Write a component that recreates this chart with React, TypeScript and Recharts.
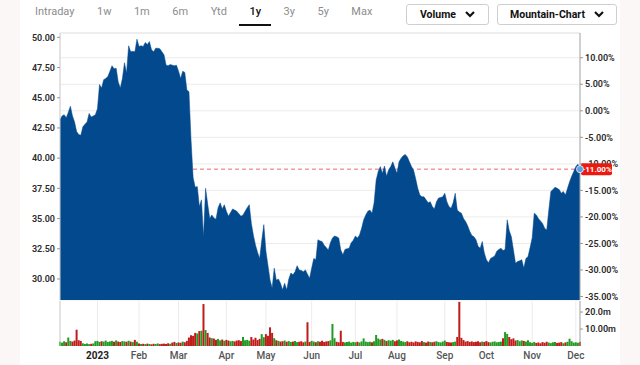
import { ComposedChart, Area, Bar, Cell, XAxis, YAxis, CartesianGrid, ReferenceLine, ReferenceDot } from 'recharts'

// one value per trading day, Dec 2022 -> Dec 2023
const prices = [
  43.2, 43.5, 43.6, 43.35, 43.8, 44.3, 43.5, 43.0, 42.2, 41.95,
  41.9, 42.6, 42.8, 43.0, 43.7, 43.4, 43.5, 43.6, 44.1, 46.1,
  45.8, 46.5, 46.6, 46.75, 47.2, 47.65, 47.4, 47.45, 46.3, 45.8,
  46.6, 47.9, 47.05, 49.3, 48.8, 48.85, 48.8, 49.85, 49.25, 49.3,
  49.25, 49.57, 49.4, 49.65, 48.97, 48.8, 49.1, 49.1, 49.05, 48.8,
  48.55, 47.7, 47.65, 47.75, 47.7, 47.65, 47.7, 47.2, 46.6, 47.2,
  47.1, 45.65, 45.5, 41.5, 38.4, 37.6, 37.65, 36.0, 36.55, 33.5,
  37.5, 36.2, 35.0, 35.3, 35.05, 34.95, 35.9, 36.3, 35.8, 36.15,
  35.6, 35.2, 35.5, 35.8, 35.7, 35.6, 35.4, 35.2, 35.3, 35.6,
  35.9, 36.15, 34.6, 33.6, 32.8, 32.2, 31.7, 33.2, 34.5, 32.3,
  31.1, 29.9, 29.25, 30.9, 29.9, 30.0, 29.65, 29.1, 29.65, 29.1,
  30.0, 30.5, 30.35, 30.6, 31.1, 30.75, 30.7, 30.6, 30.75, 30.4,
  30.05, 30.9, 31.7, 31.6, 33.25, 33.15, 33.1, 32.8, 32.6, 32.4,
  33.0, 33.4, 33.55, 33.5, 33.4, 32.4, 32.0, 32.45, 32.5, 32.55,
  33.0, 33.2, 33.55, 33.4, 33.65, 34.2, 34.9, 35.3, 35.6, 35.7,
  35.45, 36.3, 38.2, 38.9, 39.3, 38.75, 39.35, 38.5, 39.05, 39.3,
  39.7, 39.2, 38.75, 39.7, 40.0, 40.2, 40.3, 40.1, 39.7, 39.3,
  39.0, 38.3, 37.5, 36.95, 36.8, 36.8, 36.55, 36.3, 36.4, 36.0,
  35.8, 36.4, 36.7, 36.75, 36.8, 37.1, 36.4, 36.0, 35.85, 36.3,
  37.1, 35.7, 35.55, 35.45, 35.0, 34.75, 34.4, 33.95, 33.6, 33.5,
  33.25, 32.7, 32.55, 33.1, 32.15, 31.6, 31.35, 31.7, 31.8, 31.9,
  32.3, 32.45, 32.55, 32.35, 32.45, 34.9, 34.0, 33.5, 32.4, 31.3,
  31.45, 31.5, 31.6, 30.9, 31.7, 31.85, 32.6, 33.4, 35.45, 35.3,
  35.0, 34.8, 34.6, 34.2, 34.05, 35.7, 37.25, 37.4, 37.6, 37.5,
  37.4, 37.1, 37.25, 36.95, 37.5, 38.05, 38.5, 38.9, 39.3, 39.5, 39.09,
]

// millions of shares
const volumes = [
  2.5, 2.0, 2.8, 2.2, 5.0, 3.0, 2.6, 3.2, 9.6, 3.4,
  3.0, 1.6, 1.2, 1.4, 1.1, 1.3, 1.5, 2.8, 3.0, 2.4,
  2.8, 2.6, 3.2, 2.4, 2.7, 3.0, 2.5, 3.3, 2.6, 2.4,
  2.9, 2.7, 2.5, 3.1, 2.6, 2.3, 3.6, 2.5, 1.4, 1.2,
  1.3, 1.1, 1.4, 1.2, 1.0, 1.3, 1.2, 1.5, 1.1, 1.3,
  1.4, 1.2, 1.6, 1.3, 2.0, 2.4, 1.8, 2.1, 1.9, 2.6,
  2.2, 3.0, 5.0, 6.3, 6.0, 7.7, 7.4, 8.8, 9.0, 24.7,
  9.4, 7.7, 5.0, 4.6, 4.4, 3.6, 4.2, 3.3, 3.8, 3.1,
  3.6, 3.2, 2.8, 3.0, 2.7, 3.2, 3.4, 2.9, 5.3, 3.4,
  3.6, 3.1, 5.3, 3.8, 4.8, 3.5, 4.2, 7.0, 5.2, 7.0,
  6.0, 11.0, 7.7, 4.6, 3.4, 3.0, 2.6, 2.8, 3.2, 2.5,
  2.9, 2.4, 2.6, 3.0, 2.3, 2.5, 2.8, 2.2, 2.6, 14.0,
  2.4, 3.0, 2.6, 2.2, 2.8, 2.5, 3.1, 2.4, 2.7, 2.9,
  3.3, 13.0, 4.6, 2.5, 2.2, 9.0, 2.4, 2.1, 2.3, 2.6,
  2.0, 2.4, 2.2, 2.5, 2.1, 2.7, 4.5, 2.6, 2.3, 2.5,
  2.2, 2.8, 6.5, 4.4, 3.8, 4.2, 3.6, 2.9, 3.4, 3.1,
  3.6, 2.8, 3.3, 3.9, 3.0, 2.6, 2.3, 2.8, 2.2, 2.5,
  2.1, 2.7, 2.4, 2.2, 2.9, 2.3, 2.0, 2.6, 2.4, 2.2,
  2.5, 2.8, 2.3, 2.1, 2.6, 3.2, 2.4, 2.2, 2.0, 2.3,
  2.6, 5.3, 26.0, 4.8, 3.5, 2.6, 2.9, 2.4, 2.7, 2.3,
  2.5, 2.8, 2.2, 2.6, 2.4, 2.9, 2.3, 2.1, 2.5, 2.7,
  2.2, 2.4, 2.6, 4.5, 8.2, 7.1, 5.3, 4.0, 4.5, 3.2,
  3.5, 2.8, 3.3, 3.0, 2.6, 3.4, 2.2, 1.9, 2.4, 1.8,
  2.1, 1.6, 2.3, 1.9, 2.5, 2.0, 1.7, 2.2, 2.4, 1.8,
  2.0, 2.3, 1.6, 2.1, 2.5, 4.3, 2.8, 2.0, 2.2, 1.9, 2.4,
]

const monthIdx = [18, 38, 57, 80, 99, 121, 142, 162, 185, 205, 227, 248]
const monthLabels = ['2023', 'Feb', 'Mar', 'Apr', 'May', 'Jun', 'Jul', 'Aug', 'Sep', 'Oct', 'Nov', 'Dec']
const priceTicks = [30, 32.5, 35, 37.5, 40, 42.5, 45, 47.5, 50]
const pctTicks = [-35, -30, -25, -20, -15, -10, -5, 0, 5, 10]
const volTicks = [10, 20]
const volTickLabels = ['10.00m', '20.0m']
const periods = ['Intraday', '1w', '1m', '6m', 'Ytd', '1y', '3y', '5y', 'Max']
const activePeriod = '1y'

const basePrice = 43.92
const priceDomain = [28.26, 50.36]
const volDomain = [0, 26.5]

const BLUE = '#03498d'
const RED = '#c01b1b'
const GREEN = '#239a23'
const FONT = 'Roboto, "Noto Sans", sans-serif'

const pctDomain = priceDomain.map((p) => (p / basePrice - 1) * 100)
const lastIdx = prices.length - 1
const lastPrice = prices[lastIdx]
const lastPct = `${((lastPrice / basePrice - 1) * 100).toFixed(2)}%`

const data = prices.map((p, i) => ({
  i,
  price: p,
  vol: volumes[i],
  up: i === 0 ? true : p >= prices[i - 1],
}))

const EndMarker = (props: any) => {
  const { cx, cy } = props
  if (cx == null || cy == null) return null
  return (
    <g>
      <rect x={cx + 1} y={cy - 6} width={31} height={12} rx={2} fill="#ea1a10" />
      <text x={cx + 17} y={cy + 3} textAnchor="middle" fontSize={8} fontWeight={700} fill="#fff" fontFamily={FONT}>
        {lastPct}
      </text>
      <circle cx={cx} cy={cy} r={3.5} fill="#5f9fdc" stroke="#cfe2f6" strokeWidth={1} />
    </g>
  )
}

const MonthTick = (props: any) => {
  const { x, y, payload } = props
  const k = monthIdx.indexOf(payload.value)
  const label = monthLabels[k]
  const isYear = k === 0
  return (
    <text
      x={x}
      y={y}
      dy={9}
      textAnchor="middle"
      fontSize={10}
      fontFamily={FONT}
      fontWeight={isYear ? 700 : 500}
      fill={isYear ? '#222' : '#555'}
    >
      {label}
    </text>
  )
}

const Chevron = () => (
  <svg width={10} height={7} style={{ marginLeft: 9 }}>
    <polyline points="1,1 5,5 9,1" fill="none" stroke="#111" strokeWidth={2.2} />
  </svg>
)

export default function App() {
  const axisTick = { fontSize: 9, fill: '#2a2a2a', fontFamily: FONT, fontWeight: 600 }

  return (
    <div style={{ position: 'absolute', left: 0, top: 0, width: 640, height: 365, background: '#fcf7f7', fontFamily: FONT }}>
      <div style={{ position: 'absolute', left: 20, top: 0, width: 600, height: 365, background: '#fff' }} />

      {/* period selector */}
      <div style={{ position: 'absolute', left: 35, top: 4, display: 'flex', gap: 22.5, fontSize: 11, lineHeight: '16px' }}>
        {periods.map((p) => (
          <div key={p} style={{ position: 'relative', color: p === activePeriod ? '#111' : '#8c8c8c', fontWeight: p === activePeriod ? 500 : 400 }}>
            {p}
            {p === activePeriod && (
              <div style={{ position: 'absolute', left: -10, right: -10, top: 20, height: 2, background: '#111' }} />
            )}
          </div>
        ))}
      </div>

      {/* dropdowns */}
      <div style={{ position: 'absolute', left: 406, top: 4, width: 83, height: 21, border: '1px solid #cfcfcf', borderRadius: 3, boxSizing: 'border-box', display: 'flex', alignItems: 'center', justifyContent: 'center', fontSize: 10.5, fontWeight: 700, color: '#111' }}>
        Volume
        <Chevron />
      </div>
      <div style={{ position: 'absolute', left: 497, top: 4, width: 120, height: 21, border: '1px solid #cfcfcf', borderRadius: 3, boxSizing: 'border-box', display: 'flex', alignItems: 'center', justifyContent: 'center', fontSize: 10.5, fontWeight: 700, color: '#111' }}>
        Mountain-Chart
        <Chevron />
      </div>

      {/* price mountain */}
      <div style={{ position: 'absolute', left: 0, top: 0 }}>
        <ComposedChart width={640} height={306} data={data} margin={{ top: 33, right: 0, bottom: 6, left: 0 }}>
          <CartesianGrid yAxisId="pct" stroke="#ececec" strokeWidth={1} />
          <XAxis
            type="number"
            dataKey="i"
            domain={[0, lastIdx]}
            ticks={monthIdx}
            height={0}
            tick={false}
            axisLine={false}
            tickLine={false}
          />
          <YAxis
            yAxisId="price"
            orientation="left"
            width={60}
            domain={priceDomain}
            ticks={priceTicks}
            interval={0}
            allowDataOverflow
            tickFormatter={(v: number) => v.toFixed(2)}
            tick={axisTick}
            tickSize={3}
            tickMargin={2}
            tickLine={{ stroke: '#999' }}
            axisLine={{ stroke: '#d0d0d0' }}
          />
          <YAxis
            yAxisId="pct"
            orientation="right"
            width={60}
            domain={pctDomain}
            ticks={pctTicks}
            interval={0}
            allowDataOverflow
            tickFormatter={(v: number) => `${v.toFixed(2)}%`}
            tick={axisTick}
            tickSize={3}
            tickMargin={2}
            tickLine={{ stroke: '#999' }}
            axisLine={{ stroke: '#aaa' }}
          />
          <ReferenceLine yAxisId="price" y={priceDomain[1]} stroke="#e6e6e6" zIndex={-50} />
          <ReferenceLine yAxisId="price" y={lastPrice} stroke="#ec6a6a" strokeDasharray="4 3" zIndex={50} />
          <Area
            yAxisId="price"
            dataKey="price"
            type="linear"
            fill={BLUE}
            fillOpacity={1}
            stroke={BLUE}
            strokeWidth={0.5}
            dot={false}
            activeDot={false}
            isAnimationActive={false}
          />
          <ReferenceDot yAxisId="price" x={lastIdx} y={lastPrice} shape={EndMarker} zIndex={2500} />
        </ComposedChart>
      </div>

      {/* volume */}
      <div style={{ position: 'absolute', left: 0, top: 300 }}>
        <ComposedChart width={640} height={65} data={data} margin={{ top: 1, right: 0, bottom: 0, left: 0 }}>
          <CartesianGrid horizontal={false} stroke="#ececec" />
          <XAxis
            type="number"
            dataKey="i"
            domain={[0, lastIdx]}
            ticks={monthIdx}
            height={19}
            tick={<MonthTick />}
            tickSize={2}
            axisLine={false}
            tickLine={false}
            interval={0}
          />
          <YAxis
            yAxisId="vl"
            orientation="left"
            width={60}
            domain={volDomain}
            allowDataOverflow
            tick={false}
            tickLine={false}
            axisLine={{ stroke: '#d0d0d0' }}
          />
          <YAxis
            yAxisId="vr"
            orientation="right"
            width={60}
            domain={volDomain}
            allowDataOverflow
            ticks={volTicks}
            interval={0}
            tickFormatter={(v: number) => volTickLabels[volTicks.indexOf(v)] ?? ''}
            tick={axisTick}
            tickSize={3}
            tickMargin={2}
            tickLine={{ stroke: '#999' }}
            axisLine={{ stroke: '#aaa' }}
          />
          <Bar yAxisId="vr" dataKey="vol" barSize={2} isAnimationActive={false}>
            {data.map((d, k) => (
              <Cell key={k} fill={d.up ? GREEN : RED} />
            ))}
          </Bar>
        </ComposedChart>
      </div>
    </div>
  )
}
